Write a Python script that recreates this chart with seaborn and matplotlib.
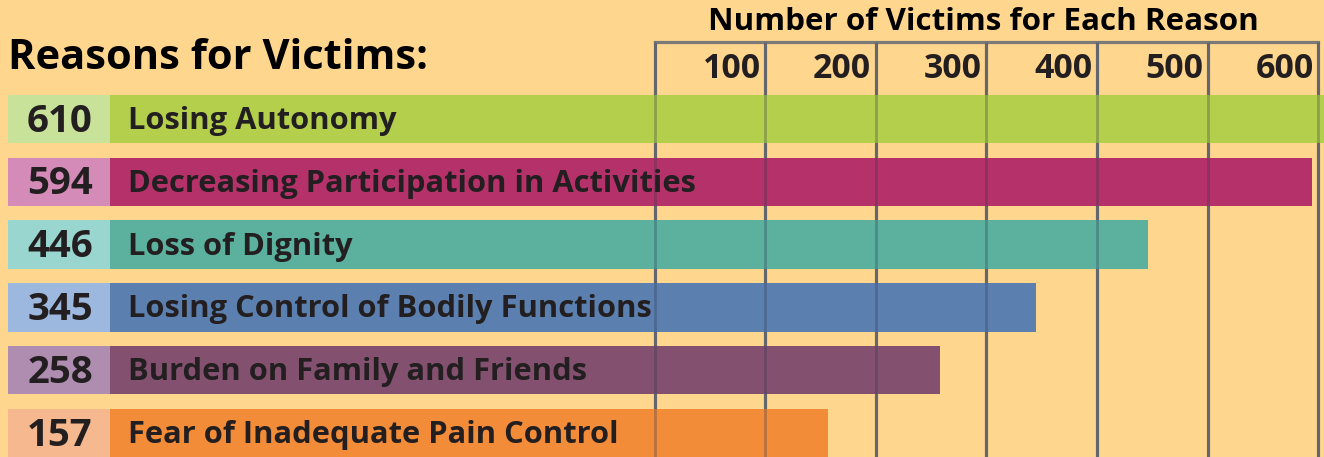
import matplotlib
matplotlib.use("Agg")
import matplotlib.pyplot as plt
import seaborn as sns
import pandas as pd
from matplotlib.transforms import blended_transform_factory

# ---- data ----
reasons = ["Losing Autonomy", "Decreasing Participation in Activities", "Loss of Dignity",
           "Losing Control of Bodily Functions", "Burden on Family and Friends",
           "Fear of Inadequate Pain Control"]
victims = [610, 594, 446, 345, 258, 157]
bar_colors = ["#B3CF4B", "#B5316A", "#5BB09E", "#5B80B0", "#83516F", "#F28C38"]
box_colors = ["#C9E29A", "#D48BB8", "#9AD6D0", "#9DB8DF", "#AE8DB0", "#F6B88E"]
tick_values = [100, 200, 300, 400, 500, 600]
grid_values = [0, 100, 200, 300, 400, 500, 600]

BG = "#FED68E"
TXT = "#231F20"

sns.set_theme(style="white")
plt.rcParams["font.family"] = ["Open Sans", "DejaVu Sans"]

fig = plt.figure(figsize=(13.24, 4.57), dpi=100, facecolor=BG)
ax = fig.add_axes([0, 0, 1, 1])
ax.set_facecolor(BG)

df = pd.DataFrame({"reason": reasons, "victims": victims})
BAR_H = 0.77
sns.barplot(data=df, x="victims", y="reason", hue="reason", palette=bar_colors,
            orient="h", width=BAR_H, legend=False, ax=ax, saturation=1, zorder=3)

XMIN, XMAX = -591.8, 605.3
ax.set_xlim(XMIN, XMAX)
ax.set_ylim(5.38, -1.895)

BAR_START = -492.0
BOX_START = -584.5
for p in ax.patches:
    row = int(round(p.get_y() + p.get_height() / 2))
    p.set_x(BAR_START)
    p.set_width(victims[row] - BAR_START)
    p.set_linewidth(0)

rows = list(range(len(reasons)))
ax.barh(rows, [BAR_START - BOX_START] * len(rows), left=BOX_START, height=BAR_H,
        color=box_colors, zorder=3, linewidth=0)

# grid
GRID_TOP = -1.225
for g in grid_values:
    ax.plot([g, g], [GRID_TOP, 5.6], color="#7A7A78", lw=2.3, zorder=2, solid_capstyle="butt")
    ax.plot([g, g], [GRID_TOP, 5.6], color="#2B3550", lw=2.0, alpha=0.3, zorder=4,
            solid_capstyle="butt")
ax.plot([0, 600], [GRID_TOP, GRID_TOP], color="#7A7A78", lw=2.3, zorder=2,
        solid_capstyle="projecting")

renderer = fig.canvas.get_renderer()


def fit(texts, ref_text, target_px):
    w = ref_text.get_window_extent(renderer).width
    s = ref_text.get_fontsize() * target_px / w
    for t in texts:
        t.set_fontsize(s)


# tick labels
ticks = []
for t in tick_values:
    ticks.append(ax.text(t - 4, -0.79, str(t), ha="right", va="center", fontsize=21,
                         fontweight="bold", color=TXT, zorder=5))
fit(ticks, ticks[0], 58)

trans = blended_transform_factory(ax.transAxes, ax.transData)
vals, names = [], []
for i, (r, v) in enumerate(zip(reasons, victims)):
    vals.append(ax.text(60 / 1324, i + 0.04, str(v), transform=trans, ha="center", va="center",
                        fontsize=25, fontweight="bold", color=TXT, zorder=5))
    names.append(ax.text(128 / 1324, i + 0.03, r, transform=trans, ha="left", va="center",
                         fontsize=21, fontweight="bold", color=TXT, zorder=5))
fit(vals, vals[1], 66)
fit(names, names[1], 567)

t1 = ax.text(8 / 1324, -0.96, "Reasons for Victims:", transform=trans, ha="left",
             va="center", fontsize=27, fontweight="bold", color="black", zorder=5)
fit([t1], t1, 419)
t2 = ax.text(983 / 1324, -1.55, "Number of Victims for Each Reason", transform=trans,
             ha="center", va="center", fontsize=21, fontweight="bold", color="black", zorder=5)
fit([t2], t2, 550)

ax.axis("off")
fig.savefig("out.png", dpi=100, facecolor=BG)
